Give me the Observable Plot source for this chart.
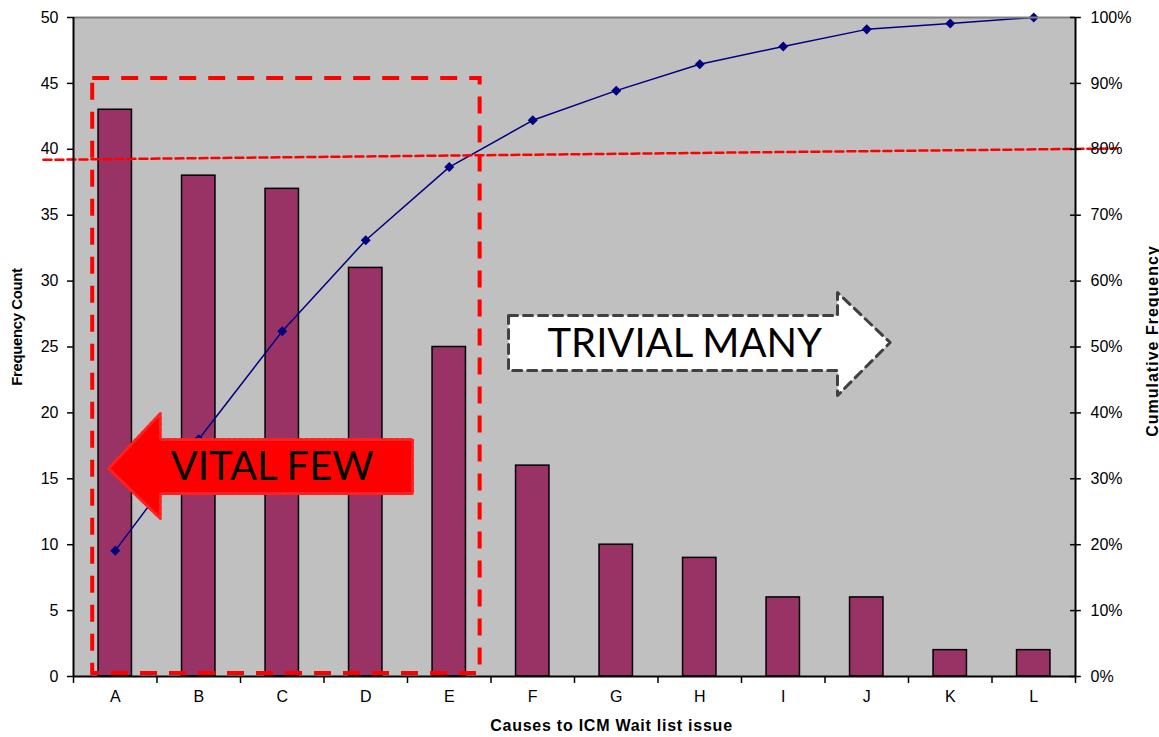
<!DOCTYPE html>
<html>
<head>
<meta charset="utf-8">
<script src="https://cdn.jsdelivr.net/npm/d3@7"></script>
<script src="https://cdn.jsdelivr.net/npm/@observablehq/plot@0.6"></script>
<style>
  html, body { margin: 0; padding: 0; background: white; }
  svg { overflow: visible; }
  .xtitle text { letter-spacing: 0.75px; }
  .rtitle text { letter-spacing: 1px; }
  .ltitle text { letter-spacing: -0.4px; }
</style>
</head>
<body>
<div id="chart"></div>
<script>
// Data
const categories = ["A","B","C","D","E","F","G","H","I","J","K","L"];
const counts = [43, 38, 37, 31, 25, 16, 10, 9, 6, 6, 2, 2];
const cumulativePct = [19.1, 36.0, 52.4, 66.2, 77.3, 84.4, 88.9, 92.9, 95.6, 98.2, 99.1, 100];
const leftTicks = [0, 5, 10, 15, 20, 25, 30, 35, 40, 45, 50];
const rightTickLabels = ["0%","10%","20%","30%","40%","50%","60%","70%","80%","90%","100%"];

// Annotations (data coordinates: x = category index, y = count)
const vitalBox = [{x1: -0.27, x2: 4.37, y1: 0.23, y2: 45.37}];
const line80 = [{x: -0.86, y: 39.2}, {x: 12.0, y: 40.06}];
const vitalArrow = [
  {x: -0.08, y: 15.78}, {x: 0.54, y: 19.95}, {x: 0.54, y: 17.98}, {x: 3.56, y: 17.98},
  {x: 3.56, y: 13.88}, {x: 0.54, y: 13.88}, {x: 0.54, y: 11.99}
];
const trivialArrow = [
  {x: 4.71, y: 27.39}, {x: 8.65, y: 27.39}, {x: 8.65, y: 29.13}, {x: 9.28, y: 25.34},
  {x: 8.65, y: 21.32}, {x: 8.65, y: 23.22}, {x: 4.71, y: 23.22}
];
const labels = [
  {x: 1.88, y: 15.9, text: "VITAL FEW"},
  {x: 6.82, y: 25.25, text: "TRIVIAL MANY"}
];

const idx = categories.map((_, i) => i);
const bars = idx.map(i => ({i, cat: categories[i], count: counts[i]}));
const cum = idx.map(i => ({i, v: cumulativePct[i] / 2}));
const boundaries = d3.range(categories.length + 1).map(k => k - 0.5);

const chart = Plot.plot({
  width: 1159,
  height: 737,
  marginLeft: 73,
  marginRight: 84,
  marginTop: 17,
  marginBottom: 61,
  x: {type: "linear", domain: [-0.5, 11.5]},
  y: {domain: [0, 50]},
  style: {fontFamily: "'Liberation Sans', Arial, sans-serif", fontSize: "16px", background: "white", overflow: "visible", color: "black"},
  marks: [
    Plot.frame({fill: "#c0c0c0", stroke: null}),
    Plot.rect(bars, {x1: d => d.i - 0.2, x2: d => d.i + 0.2, y1: 0, y2: "count", fill: "#993366", stroke: "black", strokeWidth: 1.5}),
    Plot.line(cum, {x: "i", y: "v", stroke: "#000080", strokeWidth: 1.5}),
    Plot.dot(cum, {x: "i", y: "v", symbol: "square", rotate: 45, r: 4, fill: "#000080", stroke: null}),
    // 80% reference line
    Plot.line(line80, {x: "x", y: "y", stroke: "#ff0000", strokeWidth: 2.5, strokeDasharray: "8,4"}),
    // Vital few box
    Plot.rect(vitalBox, {x1: "x1", x2: "x2", y1: "y1", y2: "y2", fill: "none", stroke: "#ff0000", strokeWidth: 4, strokeDasharray: "17,12"}),
    // Arrows
    Plot.line([...vitalArrow, vitalArrow[0]], {x: "x", y: "y", fill: "#ff0000", stroke: "#ff2020", strokeWidth: 3, strokeDasharray: "4,2", strokeLinejoin: "round"}),
    Plot.line([...trivialArrow, trivialArrow[0]], {x: "x", y: "y", fill: "white", stroke: "#404040", strokeWidth: 3, strokeDasharray: "9,6"}),
    Plot.text(labels, {x: "x", y: "y", text: "text", fontFamily: "Lato, 'Open Sans', sans-serif", fontSize: 40, fill: "black", textAnchor: "middle"}),
    // Frame lines
    Plot.ruleY([50], {stroke: "#808080", strokeWidth: 2}),
    Plot.ruleX([-0.5, 11.5], {stroke: "black", strokeWidth: 2}),
    Plot.ruleY([0], {stroke: "black", strokeWidth: 2}),
    // Axes
    Plot.axisY({anchor: "left", ticks: leftTicks, tickSize: 6, tickPadding: 9, fontSize: 16, label: null, strokeWidth: 1.5}),
    Plot.axisY({anchor: "right", ticks: leftTicks, tickSize: 0, tickPadding: 15, fontSize: 16, label: null, tickFormat: (d) => rightTickLabels[leftTicks.indexOf(d)]}),
    Plot.ruleY(leftTicks, {x1: 11.44, x2: 11.57, stroke: "black", strokeWidth: 1.5}),
    Plot.axisX({ticks: boundaries, tickFormat: () => "", tickSize: 7, label: null, strokeWidth: 1.5}),
    Plot.axisX({ticks: idx, tickSize: 0, tickPadding: 14, fontSize: 16, label: null, tickFormat: i => categories[i]}),
    // Axis titles
    Plot.text(["Frequency Count"], {frameAnchor: "left", dx: -56, dy: -20, rotate: -90, fontWeight: "bold", fontSize: 15, textAnchor: "middle", className: "ltitle"}),
    Plot.text(["Cumulative Frequency"], {frameAnchor: "right", dx: 77, dy: -6, rotate: -90, fontWeight: "bold", fontSize: 16, textAnchor: "middle", className: "rtitle"}),
    Plot.text(["Causes to ICM Wait list issue"], {frameAnchor: "bottom", dx: 37, dy: 54, fontWeight: "bold", fontSize: 16, textAnchor: "middle", className: "xtitle"})
  ]
});
document.getElementById("chart").appendChild(chart);
</script>
</body>
</html>
